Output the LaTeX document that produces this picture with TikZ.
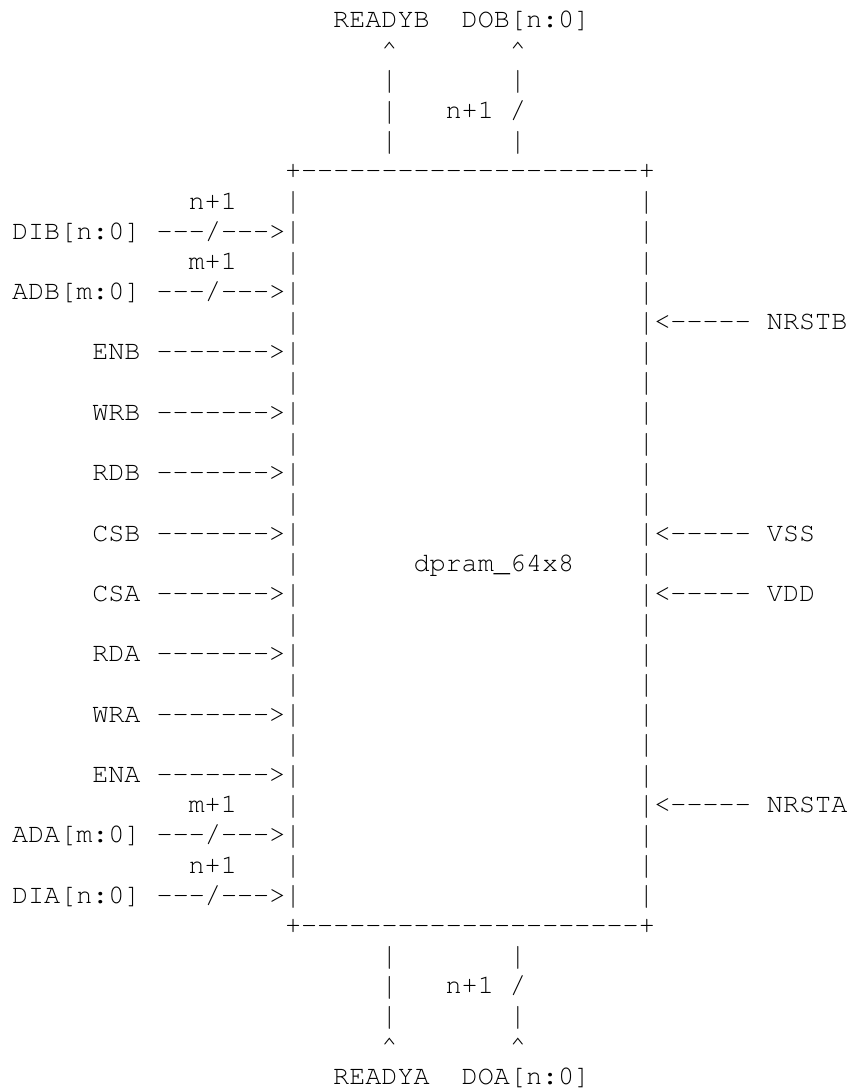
\documentclass[tikz,border=0pt]{standalone}
\usepackage[T1]{fontenc}
\newcommand\pinfont{\fontfamily{pcr}\fontsize{13.4pt}{15pt}\selectfont}
% taller stroke for the vertical wires
\newcommand\vbar{\raisebox{-0.06em}[0.7em][0.1em]{\scalebox{1}[1.18]{|}}}
\tikzset{
  txt/.style={anchor=base west, inner sep=0pt, outer sep=0pt, font=\pinfont},
}
\begin{document}
\begin{tikzpicture}[x=8.03pt, y=-15.09pt]
% one unit = one character cell (column, row)
\fill[white] (-6pt,14pt) rectangle (420.5pt,-531.5pt);
\useasboundingbox (-6pt,14pt) rectangle (420.5pt,-531.5pt);

% block outline
\node[txt] (top) at (17,5) {+-{}-{}-{}-{}-{}-{}-{}-{}-{}-{}-{}-{}-{}-{}-{}-{}-{}-{}-{}-{}-+};
\node[txt] (bot) at (17,30) {+-{}-{}-{}-{}-{}-{}-{}-{}-{}-{}-{}-{}-{}-{}-{}-{}-{}-{}-{}-{}-+};
\foreach \r in {6,...,29} {
  \node[txt] (wl\r) at (17,\r) {\vbar};
  \node[txt] (wr\r) at (39,\r) {\vbar};
}
\node[txt] (name) at (25,18) {dpram\_64x8};

% port B outputs on top
\node[txt] (readyb) at (20,0) {READYB};
\node[txt] (dob) at (28,0) {DOB[n:0]};
\foreach \c in {23,31} {
  \node[txt] (tup\c) at (\c,1) {\textasciicircum};
  \node[txt] (ta\c) at (\c,2) {\vbar};
  \node[txt] (tc\c) at (\c,4) {\vbar};
}
\node[txt] (tb23) at (23,3) {\vbar};
\node[txt] (tb31) at (31,3) {/};
\node[txt] (dobw) at (27,3) {n+1};

% port A outputs below
\node[txt] (readya) at (20,35) {READYA};
\node[txt] (doa) at (28,35) {DOA[n:0]};
\foreach \c in {23,31} {
  \node[txt] (ba\c) at (\c,31) {\vbar};
  \node[txt] (bc\c) at (\c,33) {\vbar};
  \node[txt] (bup\c) at (\c,34) {\textasciicircum};
}
\node[txt] (bb23) at (23,32) {\vbar};
\node[txt] (bb31) at (31,32) {/};
\node[txt] (doaw) at (27,32) {n+1};

% bus inputs with widths
\foreach \r/\id/\bus/\w in {7/dib/DIB[n:0]/n+1, 9/adb/ADB[m:0]/m+1,
                            27/ada/ADA[m:0]/m+1, 29/dia/DIA[n:0]/n+1} {
  \node[txt] (\id) at (0,\r) {\bus{} -{}-{}-/-{}-{}->};
  \node[txt] (\id w) at (11,\r-1) {\w};
}

% single bit inputs
\foreach \r/\pin in {11/ENB,13/WRB,15/RDB,17/CSB,19/CSA,21/RDA,23/WRA,25/ENA}
  \node[txt] (\pin) at (5,\r) {\pin{} -{}-{}-{}-{}-{}-{}->};

% reset and supplies on the right
\foreach \r/\pin in {10/NRSTB,17/VSS,19/VDD,26/NRSTA}
  \node[txt] (\pin) at (40,\r) {<-{}-{}-{}-{}- \pin};
\end{tikzpicture}
\end{document}
